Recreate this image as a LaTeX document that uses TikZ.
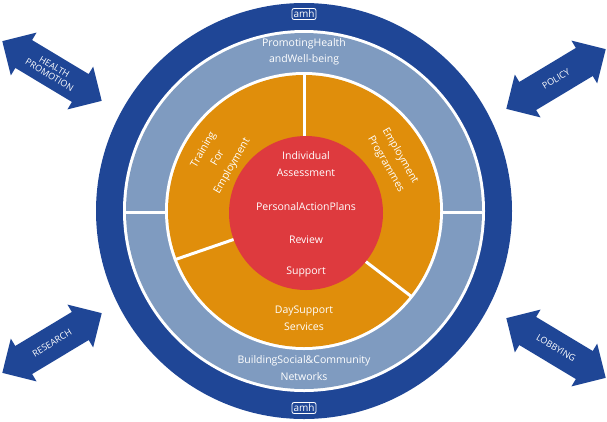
\documentclass[tikz,border=0pt]{standalone}
\usepackage{fontspec}
\setmainfont{Open Sans}
\usetikzlibrary{shapes.arrows}
\definecolor{dblue}{HTML}{1F4696}
\definecolor{lblue}{HTML}{7F9BC0}
\definecolor{orng}{HTML}{E08E0B}
\definecolor{rred}{HTML}{DE3A3E}
\tikzset{
 lbl/.style={text=white,font=\fontsize{10.5}{16.5}\selectfont,align=center,inner sep=0},
 darr/.style={double arrow,fill=dblue,minimum width=50pt,minimum height=116pt,text=white,font=\fontsize{9}{9.5}\selectfont,align=center,inner xsep=4pt,inner ysep=10pt},
 sep/.style={white,line width=3pt},
 logo/.style={draw=white,rounded corners=2pt,line width=0.8pt,text=white,font=\fontsize{10}{10}\selectfont,inner sep=1.5pt,minimum height=11pt}
}
\begin{document}
\begin{tikzpicture}[x=1pt,y=-1pt]
\useasboundingbox (0,0) rectangle (607,421);
\fill[dblue] (304,211) circle (208);
\fill[white] (304,211) circle (181);
\fill[lblue] (304,211) circle (178);
\draw[sep] (126,212) -- (482,212);
\fill[white] (304,211) circle (139);
\fill[orng] (304,211) circle (136);
\coordinate (t1) at (304,72); \coordinate (t2) at (304,140);
\coordinate (l1) at (174,260); \coordinate (l2) at (235,239);
\coordinate (r1) at (365,261); \coordinate (r2) at (412,297);
\draw[sep] (t1) -- (t2);
\draw[sep] (l1) -- (l2);
\draw[sep] (r1) -- (r2);
\fill[rred] (306,213) circle (77);
\node[logo] (lg1) at (304,14) {amh};
\node[logo] (lg2) at (304,408) {amh};
\node[lbl] (ph) at (304,52) {PromotingHealth\\andWell-being};
\node[lbl] (bs) at (304,368) {BuildingSocial\&Community\\Networks};
\node[lbl,rotate=60] (tr) at (218,158) {Training\\For\\Employment};
\node[lbl,rotate=-60] (ep) at (393,160) {Employment\\Programmes};
\node[lbl] (ds) at (304,318) {DaySupport\\Services};
\node[lbl] (ia) at (306,164) {Individual\\Assessment};
\node[lbl] (pa) at (306,207) {PersonalActionPlans};
\node[lbl] (rv) at (306,240) {Review};
\node[lbl] (su) at (306,272) {Support};
\node[darr,rotate=-31,inner ysep=5pt] (hp) at (52,71) {HEALTH\\PROMOTION};
\node[darr,rotate=31] (po) at (556,79) {POLICY};
\node[darr,rotate=31] (re) at (52,343) {RESEARCH};
\node[darr,rotate=-31] (lo) at (556,348) {LOBBYING};
\end{tikzpicture}
\end{document}
